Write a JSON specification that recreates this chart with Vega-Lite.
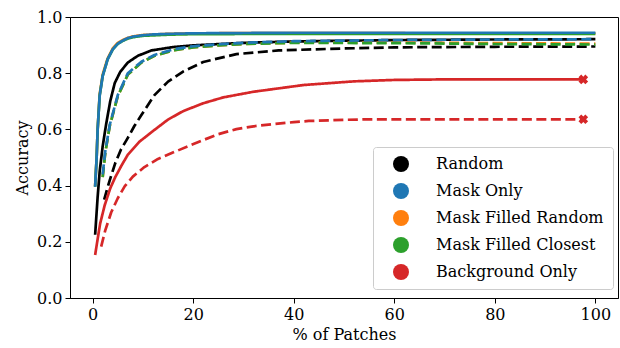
{
  "$schema": "https://vega.github.io/schema/vega-lite/v6.json",
  "width": 548,
  "height": 281,
  "autosize": {"type": "none"},
  "padding": {"left": 70, "top": 17, "right": 2, "bottom": 50},
  "background": "white",
  "config": {
    "view": {"stroke": "black", "strokeWidth": 1},
    "font": "DejaVu Serif",
    "axis": {
      "domainColor": "black", "tickColor": "black", "tickSize": 5, "tickWidth": 1,
      "grid": false, "labelFont": "DejaVu Serif", "labelFontSize": 16, "labelColor": "black",
      "titleFont": "DejaVu Serif", "titleFontSize": 16, "titleFontWeight": "normal", "titleColor": "black",
      "labelPadding": 3
    },
    "legend": {
      "labelFont": "DejaVu Serif", "labelFontSize": 16, "labelColor": "black", "labelLimit": 400
    }
  },
  "datasets": {
    "curves": [
      {"m": "Random", "s": "solid", "x": 0.5, "y": 0.225},
      {"m": "Random", "s": "solid", "x": 1.0, "y": 0.36},
      {"m": "Random", "s": "solid", "x": 1.4, "y": 0.45},
      {"m": "Random", "s": "solid", "x": 2.0, "y": 0.54},
      {"m": "Random", "s": "solid", "x": 2.7, "y": 0.62},
      {"m": "Random", "s": "solid", "x": 3.5, "y": 0.70},
      {"m": "Random", "s": "solid", "x": 4.4, "y": 0.765},
      {"m": "Random", "s": "solid", "x": 5.5, "y": 0.805},
      {"m": "Random", "s": "solid", "x": 7.0, "y": 0.838},
      {"m": "Random", "s": "solid", "x": 9.0, "y": 0.862},
      {"m": "Random", "s": "solid", "x": 11.7, "y": 0.881},
      {"m": "Random", "s": "solid", "x": 16.0, "y": 0.893},
      {"m": "Random", "s": "solid", "x": 20.0, "y": 0.899},
      {"m": "Random", "s": "solid", "x": 30.0, "y": 0.908},
      {"m": "Random", "s": "solid", "x": 40.0, "y": 0.913},
      {"m": "Random", "s": "solid", "x": 60.0, "y": 0.918},
      {"m": "Random", "s": "solid", "x": 80.0, "y": 0.920},
      {"m": "Random", "s": "solid", "x": 100.0, "y": 0.921},
      {"m": "Mask Filled Random", "s": "solid", "x": 0.5, "y": 0.398},
      {"m": "Mask Filled Random", "s": "solid", "x": 0.8, "y": 0.50},
      {"m": "Mask Filled Random", "s": "solid", "x": 1.0, "y": 0.60},
      {"m": "Mask Filled Random", "s": "solid", "x": 1.4, "y": 0.725},
      {"m": "Mask Filled Random", "s": "solid", "x": 2.0, "y": 0.795},
      {"m": "Mask Filled Random", "s": "solid", "x": 2.5, "y": 0.825},
      {"m": "Mask Filled Random", "s": "solid", "x": 3.0, "y": 0.853},
      {"m": "Mask Filled Random", "s": "solid", "x": 4.0, "y": 0.888},
      {"m": "Mask Filled Random", "s": "solid", "x": 5.0, "y": 0.908},
      {"m": "Mask Filled Random", "s": "solid", "x": 6.0, "y": 0.918},
      {"m": "Mask Filled Random", "s": "solid", "x": 7.0, "y": 0.926},
      {"m": "Mask Filled Random", "s": "solid", "x": 8.0, "y": 0.931},
      {"m": "Mask Filled Random", "s": "solid", "x": 10.0, "y": 0.936},
      {"m": "Mask Filled Random", "s": "solid", "x": 15.0, "y": 0.940},
      {"m": "Mask Filled Random", "s": "solid", "x": 20.0, "y": 0.942},
      {"m": "Mask Filled Random", "s": "solid", "x": 40.0, "y": 0.943},
      {"m": "Mask Filled Random", "s": "solid", "x": 70.0, "y": 0.942},
      {"m": "Mask Filled Random", "s": "solid", "x": 100.0, "y": 0.942},
      {"m": "Mask Filled Closest", "s": "solid", "x": 0.5, "y": 0.396},
      {"m": "Mask Filled Closest", "s": "solid", "x": 0.8, "y": 0.50},
      {"m": "Mask Filled Closest", "s": "solid", "x": 1.0, "y": 0.60},
      {"m": "Mask Filled Closest", "s": "solid", "x": 1.4, "y": 0.72},
      {"m": "Mask Filled Closest", "s": "solid", "x": 2.0, "y": 0.79},
      {"m": "Mask Filled Closest", "s": "solid", "x": 2.5, "y": 0.82},
      {"m": "Mask Filled Closest", "s": "solid", "x": 3.0, "y": 0.85},
      {"m": "Mask Filled Closest", "s": "solid", "x": 4.0, "y": 0.884},
      {"m": "Mask Filled Closest", "s": "solid", "x": 5.0, "y": 0.904},
      {"m": "Mask Filled Closest", "s": "solid", "x": 6.0, "y": 0.915},
      {"m": "Mask Filled Closest", "s": "solid", "x": 7.0, "y": 0.923},
      {"m": "Mask Filled Closest", "s": "solid", "x": 8.0, "y": 0.928},
      {"m": "Mask Filled Closest", "s": "solid", "x": 10.0, "y": 0.933},
      {"m": "Mask Filled Closest", "s": "solid", "x": 15.0, "y": 0.937},
      {"m": "Mask Filled Closest", "s": "solid", "x": 20.0, "y": 0.939},
      {"m": "Mask Filled Closest", "s": "solid", "x": 40.0, "y": 0.940},
      {"m": "Mask Filled Closest", "s": "solid", "x": 70.0, "y": 0.940},
      {"m": "Mask Filled Closest", "s": "solid", "x": 100.0, "y": 0.940},
      {"m": "Mask Only", "s": "solid", "x": 0.5, "y": 0.396},
      {"m": "Mask Only", "s": "solid", "x": 0.8, "y": 0.50},
      {"m": "Mask Only", "s": "solid", "x": 1.0, "y": 0.60},
      {"m": "Mask Only", "s": "solid", "x": 1.4, "y": 0.72},
      {"m": "Mask Only", "s": "solid", "x": 2.0, "y": 0.79},
      {"m": "Mask Only", "s": "solid", "x": 2.5, "y": 0.82},
      {"m": "Mask Only", "s": "solid", "x": 3.0, "y": 0.85},
      {"m": "Mask Only", "s": "solid", "x": 4.0, "y": 0.885},
      {"m": "Mask Only", "s": "solid", "x": 5.0, "y": 0.905},
      {"m": "Mask Only", "s": "solid", "x": 6.0, "y": 0.916},
      {"m": "Mask Only", "s": "solid", "x": 7.0, "y": 0.925},
      {"m": "Mask Only", "s": "solid", "x": 8.0, "y": 0.930},
      {"m": "Mask Only", "s": "solid", "x": 10.0, "y": 0.935},
      {"m": "Mask Only", "s": "solid", "x": 12.0, "y": 0.938},
      {"m": "Mask Only", "s": "solid", "x": 15.0, "y": 0.940},
      {"m": "Mask Only", "s": "solid", "x": 20.0, "y": 0.942},
      {"m": "Mask Only", "s": "solid", "x": 30.0, "y": 0.943},
      {"m": "Mask Only", "s": "solid", "x": 40.0, "y": 0.944},
      {"m": "Mask Only", "s": "solid", "x": 70.0, "y": 0.944},
      {"m": "Mask Only", "s": "solid", "x": 100.0, "y": 0.944},
      {"m": "Random", "s": "dashed", "x": 2.3, "y": 0.35},
      {"m": "Random", "s": "dashed", "x": 3.0, "y": 0.395},
      {"m": "Random", "s": "dashed", "x": 3.6, "y": 0.43},
      {"m": "Random", "s": "dashed", "x": 4.5, "y": 0.48},
      {"m": "Random", "s": "dashed", "x": 5.6, "y": 0.527},
      {"m": "Random", "s": "dashed", "x": 7.0, "y": 0.57},
      {"m": "Random", "s": "dashed", "x": 8.3, "y": 0.612},
      {"m": "Random", "s": "dashed", "x": 9.7, "y": 0.651},
      {"m": "Random", "s": "dashed", "x": 12.3, "y": 0.722},
      {"m": "Random", "s": "dashed", "x": 15.0, "y": 0.77},
      {"m": "Random", "s": "dashed", "x": 18.0, "y": 0.806},
      {"m": "Random", "s": "dashed", "x": 22.0, "y": 0.84},
      {"m": "Random", "s": "dashed", "x": 28.6, "y": 0.868},
      {"m": "Random", "s": "dashed", "x": 37.0, "y": 0.881},
      {"m": "Random", "s": "dashed", "x": 50.0, "y": 0.888},
      {"m": "Random", "s": "dashed", "x": 60.0, "y": 0.892},
      {"m": "Random", "s": "dashed", "x": 80.0, "y": 0.894},
      {"m": "Random", "s": "dashed", "x": 100.0, "y": 0.895},
      {"m": "Mask Filled Random", "s": "dashed", "x": 2.0, "y": 0.43},
      {"m": "Mask Filled Random", "s": "dashed", "x": 2.5, "y": 0.515},
      {"m": "Mask Filled Random", "s": "dashed", "x": 3.4, "y": 0.612},
      {"m": "Mask Filled Random", "s": "dashed", "x": 5.0, "y": 0.718},
      {"m": "Mask Filled Random", "s": "dashed", "x": 7.0, "y": 0.795},
      {"m": "Mask Filled Random", "s": "dashed", "x": 9.7, "y": 0.838},
      {"m": "Mask Filled Random", "s": "dashed", "x": 12.3, "y": 0.862},
      {"m": "Mask Filled Random", "s": "dashed", "x": 16.3, "y": 0.882},
      {"m": "Mask Filled Random", "s": "dashed", "x": 20.0, "y": 0.892},
      {"m": "Mask Filled Random", "s": "dashed", "x": 25.0, "y": 0.899},
      {"m": "Mask Filled Random", "s": "dashed", "x": 30.0, "y": 0.904},
      {"m": "Mask Filled Random", "s": "dashed", "x": 40.0, "y": 0.909},
      {"m": "Mask Filled Random", "s": "dashed", "x": 60.0, "y": 0.909},
      {"m": "Mask Filled Random", "s": "dashed", "x": 80.0, "y": 0.907},
      {"m": "Mask Filled Random", "s": "dashed", "x": 100.0, "y": 0.905},
      {"m": "Mask Filled Closest", "s": "dashed", "x": 2.0, "y": 0.43},
      {"m": "Mask Filled Closest", "s": "dashed", "x": 2.5, "y": 0.515},
      {"m": "Mask Filled Closest", "s": "dashed", "x": 3.4, "y": 0.612},
      {"m": "Mask Filled Closest", "s": "dashed", "x": 5.0, "y": 0.718},
      {"m": "Mask Filled Closest", "s": "dashed", "x": 7.0, "y": 0.795},
      {"m": "Mask Filled Closest", "s": "dashed", "x": 9.7, "y": 0.838},
      {"m": "Mask Filled Closest", "s": "dashed", "x": 12.3, "y": 0.862},
      {"m": "Mask Filled Closest", "s": "dashed", "x": 16.3, "y": 0.882},
      {"m": "Mask Filled Closest", "s": "dashed", "x": 20.0, "y": 0.892},
      {"m": "Mask Filled Closest", "s": "dashed", "x": 25.0, "y": 0.899},
      {"m": "Mask Filled Closest", "s": "dashed", "x": 30.0, "y": 0.904},
      {"m": "Mask Filled Closest", "s": "dashed", "x": 40.0, "y": 0.908},
      {"m": "Mask Filled Closest", "s": "dashed", "x": 60.0, "y": 0.907},
      {"m": "Mask Filled Closest", "s": "dashed", "x": 80.0, "y": 0.904},
      {"m": "Mask Filled Closest", "s": "dashed", "x": 100.0, "y": 0.902},
      {"m": "Mask Only", "s": "dashed", "x": 2.0, "y": 0.44},
      {"m": "Mask Only", "s": "dashed", "x": 2.5, "y": 0.52},
      {"m": "Mask Only", "s": "dashed", "x": 3.4, "y": 0.616},
      {"m": "Mask Only", "s": "dashed", "x": 5.0, "y": 0.722},
      {"m": "Mask Only", "s": "dashed", "x": 7.0, "y": 0.80},
      {"m": "Mask Only", "s": "dashed", "x": 9.7, "y": 0.841},
      {"m": "Mask Only", "s": "dashed", "x": 12.3, "y": 0.865},
      {"m": "Mask Only", "s": "dashed", "x": 16.3, "y": 0.886},
      {"m": "Mask Only", "s": "dashed", "x": 20.0, "y": 0.896},
      {"m": "Mask Only", "s": "dashed", "x": 25.0, "y": 0.903},
      {"m": "Mask Only", "s": "dashed", "x": 30.0, "y": 0.908},
      {"m": "Mask Only", "s": "dashed", "x": 40.0, "y": 0.914},
      {"m": "Mask Only", "s": "dashed", "x": 60.0, "y": 0.918},
      {"m": "Mask Only", "s": "dashed", "x": 80.0, "y": 0.920},
      {"m": "Mask Only", "s": "dashed", "x": 100.0, "y": 0.921},
      {"m": "Background Only", "s": "solid", "x": 0.5, "y": 0.153},
      {"m": "Background Only", "s": "solid", "x": 1.0, "y": 0.21},
      {"m": "Background Only", "s": "solid", "x": 1.5, "y": 0.265},
      {"m": "Background Only", "s": "solid", "x": 2.4, "y": 0.33},
      {"m": "Background Only", "s": "solid", "x": 3.5, "y": 0.39},
      {"m": "Background Only", "s": "solid", "x": 4.5, "y": 0.43},
      {"m": "Background Only", "s": "solid", "x": 5.7, "y": 0.47},
      {"m": "Background Only", "s": "solid", "x": 7.0, "y": 0.51},
      {"m": "Background Only", "s": "solid", "x": 9.3, "y": 0.556},
      {"m": "Background Only", "s": "solid", "x": 11.7, "y": 0.59},
      {"m": "Background Only", "s": "solid", "x": 15.0, "y": 0.635},
      {"m": "Background Only", "s": "solid", "x": 18.0, "y": 0.665},
      {"m": "Background Only", "s": "solid", "x": 22.0, "y": 0.693},
      {"m": "Background Only", "s": "solid", "x": 26.0, "y": 0.714},
      {"m": "Background Only", "s": "solid", "x": 32.0, "y": 0.734},
      {"m": "Background Only", "s": "solid", "x": 42.0, "y": 0.758},
      {"m": "Background Only", "s": "solid", "x": 52.0, "y": 0.771},
      {"m": "Background Only", "s": "solid", "x": 60.0, "y": 0.776},
      {"m": "Background Only", "s": "solid", "x": 70.0, "y": 0.778},
      {"m": "Background Only", "s": "solid", "x": 85.0, "y": 0.778},
      {"m": "Background Only", "s": "solid", "x": 97.6, "y": 0.778},
      {"m": "Background Only", "s": "dashed", "x": 1.7, "y": 0.183},
      {"m": "Background Only", "s": "dashed", "x": 2.5, "y": 0.24},
      {"m": "Background Only", "s": "dashed", "x": 3.7, "y": 0.305},
      {"m": "Background Only", "s": "dashed", "x": 5.0, "y": 0.355},
      {"m": "Background Only", "s": "dashed", "x": 6.4, "y": 0.398},
      {"m": "Background Only", "s": "dashed", "x": 8.0, "y": 0.432},
      {"m": "Background Only", "s": "dashed", "x": 10.3, "y": 0.466},
      {"m": "Background Only", "s": "dashed", "x": 13.0, "y": 0.495},
      {"m": "Background Only", "s": "dashed", "x": 16.3, "y": 0.52},
      {"m": "Background Only", "s": "dashed", "x": 19.0, "y": 0.54},
      {"m": "Background Only", "s": "dashed", "x": 22.0, "y": 0.562},
      {"m": "Background Only", "s": "dashed", "x": 25.0, "y": 0.583},
      {"m": "Background Only", "s": "dashed", "x": 28.6, "y": 0.601},
      {"m": "Background Only", "s": "dashed", "x": 32.0, "y": 0.611},
      {"m": "Background Only", "s": "dashed", "x": 35.0, "y": 0.617},
      {"m": "Background Only", "s": "dashed", "x": 40.0, "y": 0.626},
      {"m": "Background Only", "s": "dashed", "x": 43.0, "y": 0.630},
      {"m": "Background Only", "s": "dashed", "x": 50.0, "y": 0.634},
      {"m": "Background Only", "s": "dashed", "x": 55.0, "y": 0.636},
      {"m": "Background Only", "s": "dashed", "x": 70.0, "y": 0.636},
      {"m": "Background Only", "s": "dashed", "x": 97.6, "y": 0.636}
    ],
    "ends": [
      {"m": "Background Only", "s": "solid", "x": 97.6, "y": 0.778},
      {"m": "Background Only", "s": "dashed", "x": 97.6, "y": 0.636}
    ]
  },
  "layer": [
    {
      "data": {"name": "curves"},
      "mark": {"type": "line", "strokeWidth": 2.7, "strokeCap": "butt", "strokeJoin": "round"},
      "encoding": {
        "x": {"field": "x", "type": "quantitative", "scale": {"domain": [-4.5, 104.5], "nice": false, "zero": false},
              "axis": {"values": [0, 20, 40, 60, 80, 100], "title": "% of Patches", "titlePadding": 4}},
        "y": {"field": "y", "type": "quantitative", "scale": {"domain": [0, 1], "nice": false},
              "axis": {"values": [0, 0.2, 0.4, 0.6, 0.8, 1.0], "format": ".1f", "title": "Accuracy", "titlePadding": 6}},
        "color": {"field": "m", "type": "nominal",
          "scale": {"domain": ["Random", "Mask Only", "Mask Filled Random", "Mask Filled Closest", "Background Only"],
                    "range": ["#000000", "#1f77b4", "#ff7f0e", "#2ca02c", "#d62728"]},
          "legend": {"title": null, "orient": "none", "legendX": 303, "legendY": 130,
                     "symbolType": "circle", "symbolSize": 256, "symbolStrokeWidth": 0,
                     "fillColor": "white", "strokeColor": "#cccccc", "cornerRadius": 3,
                     "padding": 9, "symbolOffset": 11, "labelOffset": 27, "rowPadding": 11,
                     "labelFontSize": 16, "labelLimit": 400,
                     "encode": {"symbols": {"update": {"fill": {"scale": "color", "field": "value"}, "opacity": {"value": 1}}}}}},
        "strokeDash": {"field": "s", "type": "nominal",
          "scale": {"domain": ["solid", "dashed"], "range": [[1, 0], [10, 4.5]]}, "legend": null},
        "detail": {"field": "s"}
      }
    },
    {
      "data": {"name": "ends"},
      "mark": {"type": "point", "shape": "cross", "angle": 45, "filled": true, "size": 95, "color": "#d62728", "opacity": 1},
      "encoding": {
        "x": {"field": "x", "type": "quantitative"},
        "y": {"field": "y", "type": "quantitative"}
      }
    }
  ]
}
